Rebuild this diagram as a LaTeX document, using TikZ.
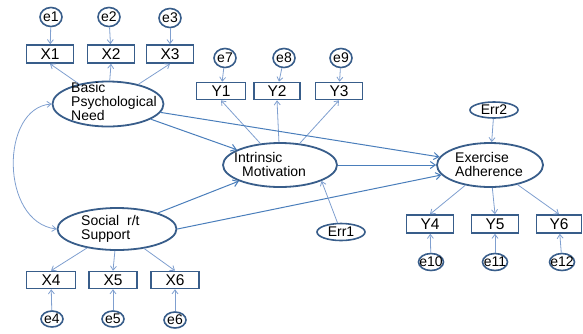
\documentclass[tikz,border=0pt]{standalone}
\usepackage{fontspec}
\setmainfont{Liberation Sans}
\usetikzlibrary{arrows.meta,shapes.geometric}
\definecolor{frame}{HTML}{385D8A}
\definecolor{arr}{HTML}{4A7EBB}
\definecolor{arrl}{HTML}{7F9FCF}
\begin{document}
\begin{tikzpicture}[x=1pt,y=-1pt,
  lat/.style={ellipse, draw=frame, line width=1.8pt, inner sep=0pt},
  obs/.style={rectangle, draw=frame, line width=1.6pt, minimum width=47pt, minimum height=18pt, inner sep=0pt, font=\fontsize{15.5}{15.5}\selectfont},
  errc/.style={ellipse, draw=frame, line width=1.6pt, minimum width=22pt, minimum height=19pt, inner sep=0pt},
  lbl/.style={font=\fontsize{14}{14}\selectfont},
  ltxt/.style={align=left, inner sep=0pt, font=\fontsize{14}{14}\selectfont},
  pth/.style={draw=arr, line width=1pt, -{Straight Barb[length=5pt,width=7pt]}},
  ind/.style={draw=arrl, line width=0.8pt, -{Straight Barb[length=4pt,width=6pt]}}]
\useasboundingbox (0,0) rectangle (583,333);
% latent variables
\node[lat, minimum width=111pt, minimum height=45pt] (bpn) at (108,104) {};
\node[ltxt, anchor=west] (bpnt) at (71,101) {Basic\\Psychological\\Need};
\node[lat, minimum width=114pt, minimum height=44pt] (im) at (280,165) {};
\node[ltxt, anchor=west] (imt) at (234,164) {Intrinsic\\\hspace*{8pt}Motivation};
\node[lat, minimum width=106pt, minimum height=44pt] (ea) at (490,165) {};
\node[ltxt, anchor=west] (eat) at (455,164) {Exercise\\Adherence};
\node[lat, minimum width=119pt, minimum height=42pt] (ss) at (117,229) {};
\node[ltxt, anchor=west] (sst) at (81,229) {Social~~r/t\\Support};
\node[lat, minimum width=48pt, minimum height=16pt, line width=1.6pt, label={[lbl]center:Err2}] (err2) at (494,110) {};
\node[lat, minimum width=48pt, minimum height=17pt, line width=1.6pt, label={[lbl]center:Err1}] (err1) at (341,232) {};
% observed
\node[obs] (x1) at (50,54) {X1};
\node[obs] (x2) at (111,54) {X2};
\node[obs] (x3) at (170,54) {X3};
\node[obs, minimum width=49pt, minimum height=17pt] (y1) at (221,91) {Y1};
\node[obs, minimum width=46pt, minimum height=17pt] (y2) at (277,91) {Y2};
\node[obs, minimum width=47pt, minimum height=17pt] (y3) at (339,91) {Y3};
\node[obs] (y4) at (430,224) {Y4};
\node[obs] (y5) at (495,224) {Y5};
\node[obs, minimum width=45pt] (y6) at (559,224) {Y6};
\node[obs, minimum width=49pt, minimum height=17pt] (x4) at (51,280) {X4};
\node[obs, minimum width=48pt, minimum height=17pt] (x5) at (113,280) {X5};
\node[obs, minimum width=48pt, minimum height=17pt] (x6) at (175,280) {X6};
% errors
\node[errc, label={[lbl]center:e1}] (e1) at (51,17) {};
\node[errc, label={[lbl]center:e2}] (e2) at (109,17) {};
\node[errc, label={[lbl]center:e3}] (e3) at (170,18) {};
\node[errc, label={[lbl]center:e7}] (e7) at (225,58) {};
\node[errc, label={[lbl]center:e8}] (e8) at (284,58) {};
\node[errc, label={[lbl]center:e9}] (e9) at (341,58) {};
\node[errc, minimum width=25pt, minimum height=17pt, label={[lbl]center:e10}] (e10) at (431,262) {};
\node[errc, minimum width=25pt, minimum height=17pt, label={[lbl]center:e11}] (e11) at (495,262) {};
\node[errc, minimum width=25pt, minimum height=17pt, label={[lbl]center:e12}] (e12) at (562,262) {};
\node[errc, minimum height=16pt, label={[lbl]center:e4}] (e4) at (52,319) {};
\node[errc, minimum height=16pt, label={[lbl]center:e5}] (e5) at (113,319) {};
\node[errc, minimum height=16pt, label={[lbl]center:e6}] (e6) at (175,320) {};
% error arrows
\foreach \a/\b in {e1/x1,e2/x2,e3/x3,e7/y1,e8/y2,e9/y3,e10/y4,e11/y5,e12/y6,e4/x4,e5/x5,e6/x6}
  \draw[ind] (\a) -- (\b);
% loadings
\foreach \b in {x1,x2,x3} \draw[ind] (bpn) -- (\b.south);
\foreach \b in {y1,y2,y3} \draw[ind] (im) -- (\b.south);
\foreach \b in {y4,y5,y6} \draw[ind] (ea) -- (\b.north);
\foreach \b in {x4,x5,x6} \draw[ind] (ss) -- (\b.north);
% structural paths
\draw[pth] (bpn) -- (im);
\draw[pth] (bpn) -- (ea);
\draw[pth] (ss) -- (im);
\draw[pth] (ss.east) -- (ea);
\draw[pth] (im) -- (ea);
\draw[ind] (err2) -- (ea);
\draw[ind] (err1) -- (im.-21);
% covariance
\draw[draw=arrl, line width=0.8pt, {Straight Barb[length=4pt,width=6pt]}-{Straight Barb[length=4pt,width=6pt]}]
  (bpn.west) .. controls (0,108) and (0,222) .. (ss.west);
\end{tikzpicture}
\end{document}
